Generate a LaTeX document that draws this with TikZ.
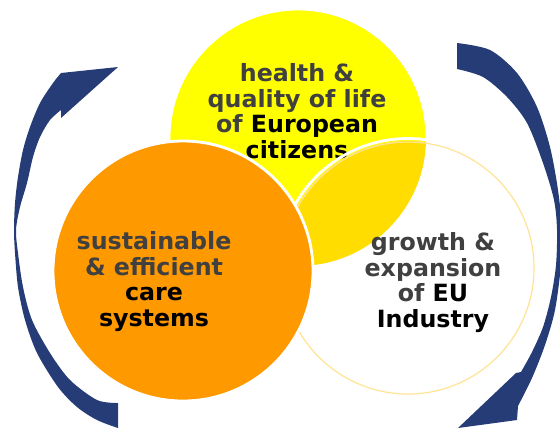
\documentclass[tikz,border=0pt]{standalone}
\usepackage{fontspec}
\setmainfont{DejaVu Sans}
\usepackage{tikz}

\definecolor{sunyellow}{RGB}{255,255,0}
\definecolor{overlapgold}{RGB}{255,221,0}
\definecolor{carrot}{RGB}{255,153,0}
\definecolor{paleline}{RGB}{255,228,150}
\definecolor{navyarrow}{RGB}{38,60,118}
\definecolor{darktext}{RGB}{64,64,64}

\tikzset{
  rim/.style={draw=white, line width=1.6pt},
  circletext/.style={font=\fontsize{13.5}{14.6}\selectfont\bfseries, text=darktext,
    align=center, inner sep=0pt, anchor=north},
  sweep/.style={fill=navyarrow},
}

\begin{document}
\begin{tikzpicture}[x=0.02cm, y=-0.02cm]
   \useasboundingbox (0,0) rectangle (560,427);

   % top circle
   \fill[sunyellow] (298,138) circle (128);
   \draw[rim] (298,138) circle (129);
   \node[circletext] (health) at (297,63)
      {health \&\\quality of life\\of \textcolor{black}{European}\\\textcolor{black}{citizens}};

   % right circle and its overlap with the top one
   \fill[white] (408,268) circle (127);
   \begin{scope}
      \clip (408,268) circle (127);
      \fill[overlapgold] (298,138) circle (128);
   \end{scope}
   \draw[paleline, line width=0.7pt] (408,268) circle (126);
   \draw[rim] (408,268) circle (129.5);

   % left circle
   \fill[carrot] (183,271) circle (129);
   \draw[rim] (183,271) circle (130);

   \node[circletext] (care) at (154,231)
      {sustainable\\\& efficient\\\textcolor{black}{care}\\\textcolor{black}{systems}};
   \node[circletext] (growth) at (433,232)
      {growth \&\\expansion\\of \textcolor{black}{EU}\\\textcolor{black}{Industry}};

   % left sweep, pointing up
   \fill[sweep] (118,403)
      -- plot[smooth] coordinates {(118,403) (97,400) (70,380) (50,353) (32,320) (23,287)
         (18,253) (16,230) (20,207) (27,183) (33,157) (40,137) (50,120) (61,110)}
      -- (61,118) -- (118,67) -- (61,73)
      -- plot[smooth] coordinates {(61,73) (53,83) (40,103) (30,127) (23,150) (18,177)
         (15,203) (14,230) (15,253) (18,287) (25,320) (37,353) (58,387) (77,407)
         (97,420) (118,428)}
      -- (118,435) -- cycle;

   % right sweep, pointing down
   \fill[sweep] (457,43)
      -- plot[smooth] coordinates {(457,43) (490,50) (517,73) (537,107) (550,147) (558,190)
         (562,230) (561,265) (555,310) (545,345) (532,378) (518,406)}
      -- (517,420) -- (458,428) -- (516,373)
      -- plot[smooth] coordinates {(521,372) (532,352) (543,327) (551,297) (556,265)
         (557,230) (554,200) (543,163) (527,123) (507,97) (483,77) (457,69)}
      -- cycle;
\end{tikzpicture}
\end{document}
